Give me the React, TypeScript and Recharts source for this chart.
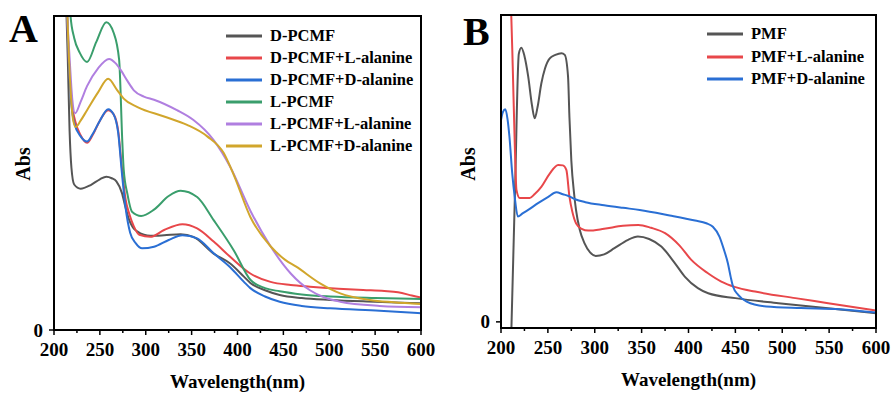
import React from 'react'
import { LineChart, Line, XAxis, YAxis, Legend } from 'recharts'

const FONT = '"Liberation Serif", "Times New Roman", serif'

type Pair = [number, number]
const toPts = (pairs: Pair[]) => pairs.map(([nm, abs]) => ({ nm, abs }))

// wavelength ticks (labels only on multiples of 50)
const xTicks = [200, 225, 250, 275, 300, 325, 350, 375, 400, 425, 450, 475, 500, 525, 550, 575, 600]
const yTicks = [0]

// ---- panel A ----
const dPcmf: Pair[] = [
  [213, 3.2], [215, 2.6], [217, 1.9], [219, 1.55], [222, 1.39], [229, 1.35], [240, 1.385], [250, 1.44],
  [257, 1.465], [263, 1.45], [268, 1.42], [274, 1.31], [278, 1.17], [282, 1.05], [286, 0.98], [291, 0.94],
  [298, 0.91], [305, 0.9], [320, 0.905], [338, 0.915], [352, 0.89], [374, 0.73], [392, 0.635], [407, 0.51],
  [414, 0.45], [430, 0.38], [446, 0.335], [470, 0.305], [501, 0.287], [550, 0.27], [600, 0.255],
]
const dPcmfLAla: Pair[] = [
  [213, 3.3], [216, 2.6], [219, 2.2], [223, 2.0], [229, 1.86], [236, 1.79], [242, 1.86], [250, 2.0],
  [259, 2.1], [265, 2.06], [270, 1.9], [274, 1.55], [278, 1.25], [282, 1.11], [287, 0.99], [293, 0.91],
  [305, 0.89], [320, 0.955], [340, 1.01], [356, 0.97], [374, 0.845], [392, 0.7], [414, 0.54], [436, 0.46],
  [458, 0.43], [479, 0.414], [510, 0.395], [537, 0.382], [560, 0.372], [575, 0.36], [590, 0.33], [600, 0.31],
]
const dPcmfDAla: Pair[] = [
  [213, 3.3], [216, 2.6], [219, 2.15], [222, 1.98], [229, 1.85], [236, 1.8], [242, 1.87], [250, 2.0],
  [259, 2.11], [265, 2.06], [270, 1.88], [274, 1.5], [278, 1.17], [283, 0.93], [289, 0.83], [296, 0.78],
  [309, 0.795], [325, 0.86], [340, 0.905], [356, 0.875], [374, 0.733], [392, 0.6], [407, 0.46], [414, 0.4],
  [430, 0.32], [446, 0.27], [470, 0.23], [501, 0.207], [555, 0.185], [600, 0.16],
]
const lPcmf: Pair[] = [
  [215, 3.6], [218, 3.0], [222, 2.79], [228, 2.65], [236, 2.56], [246, 2.75], [257, 2.94], [265, 2.84],
  [271, 2.58], [274.5, 1.79], [276, 1.53], [280, 1.3], [285, 1.13], [295, 1.09], [309, 1.15], [325, 1.28],
  [338, 1.33], [356, 1.27], [374, 1.05], [396, 0.76], [414, 0.48], [430, 0.4], [446, 0.37], [470, 0.34],
  [501, 0.32], [550, 0.305], [600, 0.296],
]
const lPcmfLAla: Pair[] = [
  [213, 3.4], [214.5, 3.0], [217, 2.6], [220, 2.2], [223, 2.07], [229, 2.18], [236, 2.33], [248, 2.5],
  [260, 2.59], [267, 2.55], [273, 2.48], [280, 2.38], [287, 2.29], [298, 2.23], [309, 2.2], [334, 2.1],
  [352, 2.006], [374, 1.815], [392, 1.56], [414, 1.14], [436, 0.8], [458, 0.54], [479, 0.38], [495, 0.31],
  [512, 0.27], [555, 0.23], [600, 0.217],
]
const lPcmfDAla: Pair[] = [
  [213, 3.5], [215, 2.9], [218, 2.3], [221, 2.0], [223.6, 1.94], [229, 2.0], [236, 2.1], [248, 2.27],
  [259, 2.4], [269, 2.29], [276, 2.21], [291, 2.13], [320, 2.04], [345, 1.96], [367, 1.85], [385, 1.69],
  [396, 1.48], [414, 1.08], [436, 0.8], [452, 0.67], [464, 0.605], [490, 0.446], [512, 0.35], [544, 0.287],
  [570, 0.265], [600, 0.248],
]

// ---- panel B ----
const pmf: Pair[] = [
  [211, -0.1], [215, 1.3], [219, 2.62], [221.7, 2.68], [225, 2.6], [229, 2.4], [233, 2.12], [236, 1.99],
  [239, 2.1], [243, 2.33], [247, 2.48], [252, 2.577], [258, 2.61], [264.5, 2.626], [268, 2.61], [271.5, 2.4],
  [273, 2.0], [275, 1.58], [278, 1.25], [280, 1.094], [284, 0.9], [289, 0.77], [295, 0.68], [301, 0.645],
  [310, 0.66], [321, 0.72], [335, 0.8], [346, 0.834], [358, 0.81], [371, 0.736], [385, 0.58], [396, 0.443],
  [410, 0.33], [421, 0.28], [450, 0.232], [496, 0.183], [549, 0.134], [600, 0.085],
]
const pmfLAla: Pair[] = [
  [209, 3.2], [211, 2.98], [212.5, 2.5], [214.5, 1.8], [216.5, 1.29], [220, 1.21], [230.6, 1.21], [236, 1.25],
  [243, 1.32], [252, 1.45], [261, 1.534], [266, 1.53], [269.7, 1.485], [273, 1.224], [276, 1.08], [280, 0.964],
  [286, 0.91], [293, 0.892], [310, 0.91], [330, 0.94], [346.5, 0.948], [360, 0.92], [375, 0.867], [390, 0.75],
  [403, 0.606], [420, 0.48], [435, 0.394], [450, 0.34], [471, 0.296], [514, 0.232], [549, 0.183], [600, 0.11],
]
const pmfDAla: Pair[] = [
  [200, 1.974], [202, 2.05], [204.6, 2.078], [207, 1.98], [209, 1.81], [212, 1.45], [214.6, 1.224], [218, 1.029],
  [223, 1.06], [229, 1.094], [239.5, 1.16], [250, 1.22], [259, 1.267], [266, 1.248], [272, 1.23], [279, 1.199],
  [290, 1.17], [310, 1.14], [330, 1.115], [348, 1.094], [380, 1.04], [407, 0.99], [419, 0.964], [426, 0.93],
  [433, 0.834], [438, 0.7], [442, 0.574], [445, 0.44], [447.5, 0.345], [453, 0.264], [462, 0.198], [483, 0.15],
  [520, 0.135], [561, 0.124], [600, 0.091],
]

type Series = { name: string; color: string; data: Pair[] }

const seriesA: Series[] = [
  { name: 'D-PCMF', color: '#555555', data: dPcmf },
  { name: 'D-PCMF+L-alanine', color: '#e8474a', data: dPcmfLAla },
  { name: 'D-PCMF+D-alanine', color: '#2a6fd4', data: dPcmfDAla },
  { name: 'L-PCMF', color: '#3a9e6c', data: lPcmf },
  { name: 'L-PCMF+L-alanine', color: '#b07fe0', data: lPcmfLAla },
  { name: 'L-PCMF+D-alanine', color: '#d1a62c', data: lPcmfDAla },
]
const seriesB: Series[] = [
  { name: 'PMF', color: '#555555', data: pmf },
  { name: 'PMF+L-alanine', color: '#e8474a', data: pmfLAla },
  { name: 'PMF+D-alanine', color: '#2a6fd4', data: pmfDAla },
]

const XTick = (props: any) => {
  const { x, y, payload } = props
  const major = payload.value % 50 === 0
  return (
    <g>
      <line x1={x} x2={x} y1={y} y2={y + (major ? 5 : 3)} stroke="#000" strokeWidth={1.5} />
      {major && (
        <text x={x} y={y + 26} textAnchor="middle" fontFamily={FONT} fontWeight="bold" fontSize={19} fill="#000">
          {payload.value}
        </text>
      )}
    </g>
  )
}

const YTick = (props: any) => {
  const { x, y, payload } = props
  return (
    <g>
      <line x1={x - 5} x2={x} y1={y} y2={y} stroke="#000" strokeWidth={1.5} />
      <text x={x - 11} y={y + 6.5} textAnchor="end" fontFamily={FONT} fontWeight="bold" fontSize={19} fill="#000">
        {payload.value}
      </text>
    </g>
  )
}

const XTitle = (props: any) => {
  const vb = props.viewBox || { x: 0, y: 0, width: 0 }
  return (
    <text x={vb.x + vb.width / 2} y={vb.y + props.drop} textAnchor="middle" fontFamily={FONT} fontWeight="bold" fontSize={19} fill="#000">
      Wavelength(nm)
    </text>
  )
}

const YTitle = (props: any) => (
  <text
    transform={`translate(${props.tx},${props.ty}) rotate(-90)`}
    textAnchor="middle"
    dominantBaseline="central"
    fontFamily={FONT}
    fontWeight="bold"
    fontSize={20}
    fill="#000"
  >
    Abs
  </text>
)

// legend drawn from the series list so the order stays as in the figure
const LegendBox = ({ series, rowH }: { series: Series[]; rowH: number }) => (
  <div style={{ fontFamily: FONT, fontWeight: 'bold', fontSize: 16.5, color: '#000' }}>
    {series.map((s) => (
      <div key={s.name} style={{ height: rowH, display: 'flex', alignItems: 'center', whiteSpace: 'nowrap' }}>
        <svg width={36} height={4} style={{ marginRight: 8 }}>
          <line x1={0} x2={36} y1={2} y2={2} stroke={s.color} strokeWidth={3} />
        </svg>
        <span>{s.name}</span>
      </div>
    ))}
  </div>
)

type PanelProps = {
  series: Series[]
  width: number
  left: number
  yAxisWidth: number
  xAxisHeight: number
  top: number
  right: number
  yDomain: [number, number]
  legendLeft: number
  legendTop: number
  rowH: number
}

function Panel(p: PanelProps) {
  const plotW = p.width - p.yAxisWidth - p.right
  const plotH = 394 - p.top - p.xAxisHeight
  return (
    <div style={{ position: 'absolute', left: p.left, top: 0 }}>
      <LineChart width={p.width} height={394} margin={{ top: p.top, right: p.right, left: 0, bottom: 0 }}>
        <XAxis
          type="number"
          dataKey="nm"
          domain={[200, 600]}
          allowDataOverflow
          ticks={xTicks}
          interval={0}
          tickSize={0}
          tickMargin={0}
          tickLine={false}
          tick={<XTick />}
          height={p.xAxisHeight}
          axisLine={{ stroke: '#000', strokeWidth: 2 }}
          label={<XTitle drop={58} />}
        />
        <YAxis
          type="number"
          domain={p.yDomain}
          allowDataOverflow
          ticks={yTicks}
          interval={0}
          tickSize={0}
          tickMargin={0}
          tickLine={false}
          tick={<YTick />}
          width={p.yAxisWidth}
          axisLine={{ stroke: '#000', strokeWidth: 2 }}
          label={<YTitle tx={23} ty={164} />}
        />
        <Legend
          layout="vertical"
          align="center"
          verticalAlign="middle"
          wrapperStyle={{ left: p.legendLeft, top: p.legendTop, width: 'auto', height: 'auto' }}
          content={() => <LegendBox series={p.series} rowH={p.rowH} />}
        />
        {p.series.map((s) => (
          <Line
            key={s.name}
            name={s.name}
            data={toPts(s.data)}
            dataKey="abs"
            type="monotone"
            stroke={s.color}
            strokeWidth={2}
            dot={false}
            activeDot={false}
            legendType="line"
            isAnimationActive={false}
          />
        ))}
      </LineChart>
      {/* plot frame, derived from the same margins the chart uses */}
      <svg width={p.width} height={394} style={{ position: 'absolute', left: 0, top: 0, pointerEvents: 'none' }}>
        <rect x={p.yAxisWidth} y={p.top} width={plotW} height={plotH} fill="none" stroke="#000" strokeWidth={2} />
      </svg>
    </div>
  )
}

export default function App() {
  return (
    <div style={{ position: 'absolute', left: 0, top: 0, width: 893, height: 394, background: '#fff', overflow: 'hidden' }}>
      <Panel
        series={seriesA}
        width={445}
        left={0}
        yAxisWidth={54}
        xAxisHeight={64}
        top={16}
        right={24}
        yDomain={[0, 3]}
        legendLeft={226}
        legendTop={25}
        rowH={22}
      />
      <Panel
        series={seriesB}
        width={448}
        left={445}
        yAxisWidth={56}
        xAxisHeight={66}
        top={15}
        right={17}
        yDomain={[-0.06, 3]}
        legendLeft={262}
        legendTop={23}
        rowH={22.5}
      />
      <svg width={893} height={394} style={{ position: 'absolute', left: 0, top: 0, pointerEvents: 'none' }}>
        <text x={9} y={42} fontFamily={FONT} fontWeight="bold" fontSize={40} fill="#000">A</text>
        <text x={463} y={45} fontFamily={FONT} fontWeight="bold" fontSize={40} fill="#000">B</text>
      </svg>
    </div>
  )
}
